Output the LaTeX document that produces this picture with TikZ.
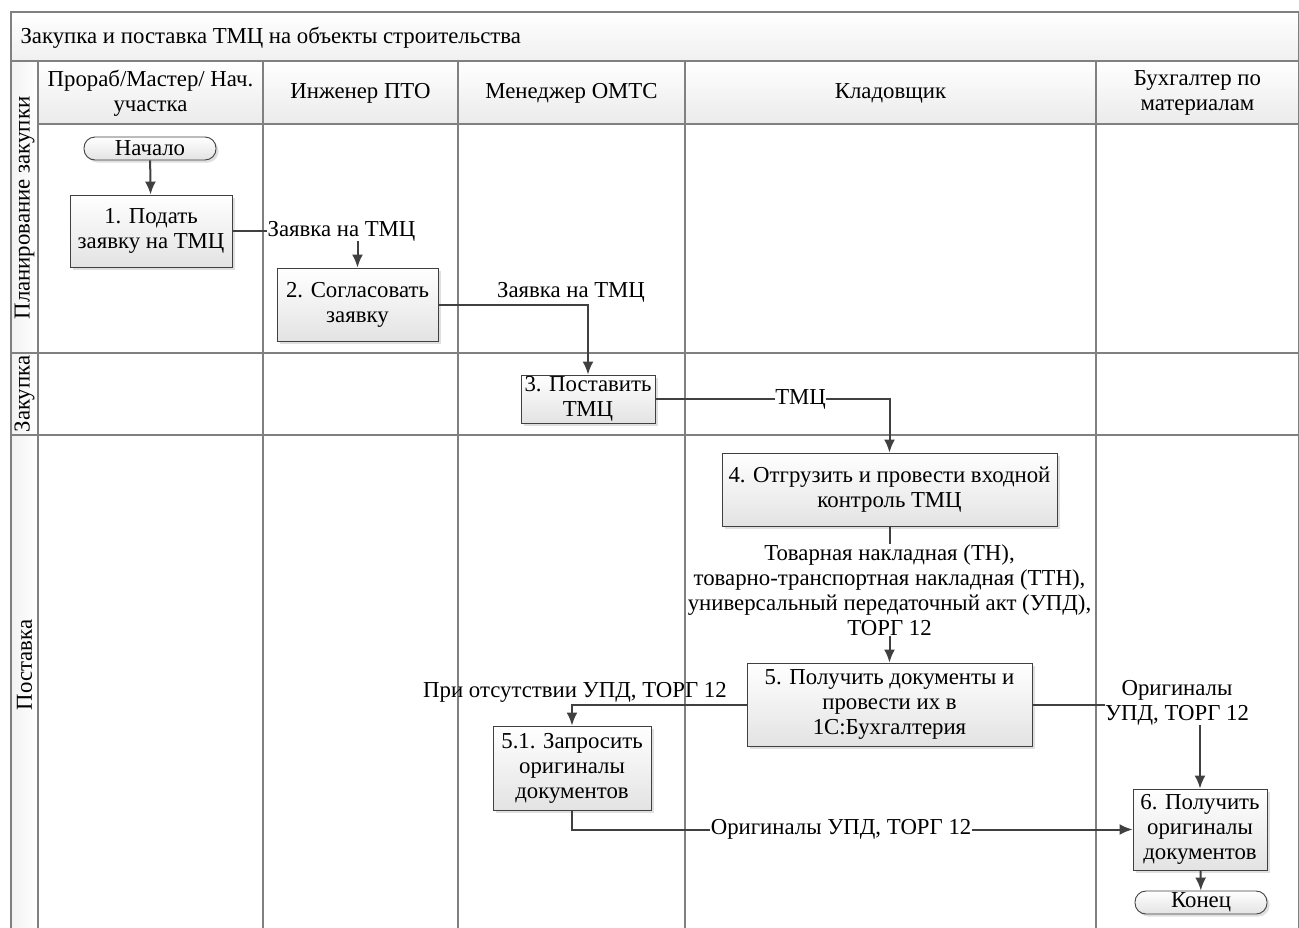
\documentclass[tikz,border=0pt]{standalone}
\usepackage{fontspec}
\setmainfont{Liberation Serif}
\usetikzlibrary{shadows,arrows.meta}
\definecolor{linegray}{HTML}{404040}
\definecolor{framegray}{HTML}{808080}

\tikzset{
  grid/.style={draw=framegray, line width=1.1pt},
  task/.style={draw=linegray, line width=0.9pt, top color=white, bottom color=gray!22,
    drop shadow={shadow xshift=2.5pt, shadow yshift=-2.5pt, fill=gray!50, opacity=.5},
    align=center, inner sep=0pt},
  term/.style={task, rounded corners=11pt, minimum width=132pt, minimum height=23pt},
  hdr/.style={align=center},
  flow/.style={draw=linegray, line width=2pt, -{Latex[length=13pt, width=11pt]}},
  lbl/.style={fill=white, inner sep=0.5pt, align=center},
}

\begin{document}
\begin{tikzpicture}[x=1pt, y=-1pt, font=\fontsize{22.8}{25}\selectfont]
  \useasboundingbox (0,0) rectangle (1299,927);

  % pool, header row and lane strip
  \shade[top color=white, bottom color=gray!12] (11,12) rectangle (1299,61);
  \foreach \xa/\xb in {38/263, 263/458, 458/685, 685/1096, 1096/1299}
    \shade[top color=white, bottom color=gray!16] (\xa,61) rectangle (\xb,124);
  \shade[left color=gray!10, right color=white] (11,61) rectangle (38,940);

  \draw[grid] (11,940) -- (11,12) -- (1298.5,12) -- (1298.5,940);
  \draw[grid] (11,61) -- (1299,61);
  \draw[grid] (38,124) -- (1299,124);
  \draw[grid] (11,353) -- (1299,353);
  \draw[grid] (11,435) -- (1299,435);
  \foreach \x in {38, 263, 458, 685, 1096}
    \draw[grid] (\x,61) -- (\x,940);

  \node[anchor=west] (title) at (17,38) {Закупка и поставка ТМЦ на объекты строительства};

  \node[hdr] (foreman) at (150.5,93) {Прораб/Мастер/ Нач.\\участка};
  \node[hdr] (engineer) at (360.5,93) {Инженер ПТО};
  \node[hdr] (manager) at (571.5,93) {Менеджер ОМТС};
  \node[hdr] (keeper) at (890.5,93) {Кладовщик};
  \node[hdr] (accountant) at (1197.5,93) {Бухгалтер по\\материалам};

  \node[rotate=90] (planning) at (24.5,208) {Планирование закупки};
  \node[rotate=90] (purchase) at (24.5,394) {Закупка};
  \node[rotate=90] (delivery) at (24.5,665) {Поставка};

  % steps
  \node[term] (start) at (150,148.5) {Начало};
  \node[task, minimum width=162pt, minimum height=72pt] (n1) at (151,231) {1. Подать\\заявку на ТМЦ};
  \node[task, minimum width=161pt, minimum height=73pt] (n2) at (357.5,304.5) {2. Согласовать\\заявку};
  \node[task, minimum width=134pt, minimum height=48pt] (n3) at (588,399) {3. Поставить\\ТМЦ};
  \node[task, minimum width=335pt, minimum height=73pt] (n4) at (889.5,489.5) {4. Отгрузить и провести входной\\контроль ТМЦ};
  \node[task, minimum width=285pt, minimum height=83pt] (n5) at (889.5,704.5) {5. Получить документы и\\провести их в\\1С:Бухгалтерия};
  \node[task, minimum width=158pt, minimum height=84pt] (n51) at (572,768) {5.1. Запросить\\оригиналы\\документов};
  \node[task, minimum width=134pt, minimum height=81pt] (n6) at (1200,829.5) {6. Получить\\оригиналы\\документов};
  \node[term] (end) at (1201,902.5) {Конец};

  % flows
  \draw[flow] (start) -- (n1);
  \draw[flow] (n1.east) -| node[lbl, pos=0.5, xshift=-16pt] {Заявка на ТМЦ} (n2.north);
  \draw[flow] (n2.east) -| node[pos=0.5, above, xshift=-17pt, inner sep=1pt] {Заявка на ТМЦ} (n3.north);
  \draw[flow] (n3.east) -| node[lbl, pos=0.31] {ТМЦ} (n4.north);
  \draw[flow] (n4) -- node[lbl, yshift=4.5pt] {Товарная накладная (ТН),\\товарно-транспортная накладная (ТТН),\\универсальный передаточный акт (УПД),\\ТОРГ 12} (n5);
  \draw[flow] (n5.west) -| node[pos=0.5, above, xshift=3pt, inner sep=1pt] {При отсутствии УПД, ТОРГ 12} (n51.north);
  \draw[flow] (n5.east) -| node[lbl, pos=0.5, xshift=-23pt, yshift=2pt] {Оригиналы\\УПД, ТОРГ 12} (n6.north);
  \draw[flow] (n51.south) |- node[lbl, pos=0.74] {Оригиналы УПД, ТОРГ 12} (n6.west);
  \draw[flow] (n6) -- (end);
\end{tikzpicture}
\end{document}
